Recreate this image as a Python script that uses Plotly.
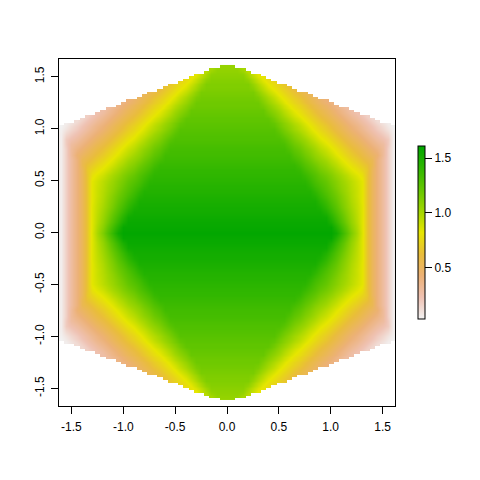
import numpy as np
import plotly.graph_objects as go

# Columns of the upper-right quadrant (x >= 0); the picture is mirror-symmetric in x and y.
x_quadrant = [round(i * 0.05, 2) for i in range(33)]
y_quadrant = [round(i * 0.05, 3) for i in range(21)] + [round(1 + i * 0.025, 3) for i in range(1, 25)]

# Values in hundredths, read row by row (y rising); rows stop at the shape's edge.
z_quadrant = [
    [160]*21 + [154,140,127,113,99,85,66,52,41,29,17,5],
    [158]*21 + [146,134,122,109,97,84,66,52,41,29,17,5],
    [157]*20 + [150,139,128,117,106,95,84,66,52,41,29,17,5],
    [155]*19 + [154,144,134,124,114,104,94,84,66,52,41,29,17,5],
    [153]*19 + [147,138,129,120,111,102,93,84,66,52,41,29,17,5],
    [152]*18 + [149,141,133,125,116,108,100,92,84,66,52,41,29,17,5],
    [150]*18 + [143,136,128,121,113,106,98,91,83,66,52,41,29,17,5],
    [148]*17 + [145,138,131,124,118,111,104,97,90,83,66,52,41,29,17,5],
    [146]*16 + [146,140,134,127,121,115,108,102,96,90,83,66,52,41,29,17,5],
    [145]*16 + [141,135,130,124,118,112,106,101,95,89,83,66,52,41,29,17,5],
    [143]*15 + [142,137,131,126,121,115,110,104,99,94,88,83,66,52,41,29,17,5],
    [141]*15 + [137,132,127,121,116,111,105,100,95,89,84,79,66,52,41,29,17,5],
    [140]*14 + [138,132,127,122,116,111,106,100,95,89,84,79,74,67,52,41,29,17,5],
    [138]*14 + [133,127,122,117,111,106,100,95,89,84,79,74,69,64,55,41,29,17,5],
    [136]*13 + [133,128,122,117,111,106,101,95,90,84,79,74,69,64,59,54,41,29,17,5],
    [134]*12 + [134,128,123,117,112,106,101,95,90,84,79,74,69,64,59,54,49,44,31,17,5],
    [133]*12 + [129,123,118,112,107,101,95,90,84,79,74,69,64,59,54,49,44,39,31,17,5],
    [131]*11 + [130,124,118,113,107,101,96,90,84,79,74,69,64,59,54,49,44,39,34,29,19,5],
    [129]*11 + [125,119,113,107,102,96,90,84,79,74,69,64,59,54,49,44,39,34,29,24,19,5],
    [128]*10 + [125,119,114,108,102,96,90,85,79,74,69,64,59,54,49,44,39,34,29,24,19,14,5],
    [126]*10 + [120,114,108,102,96,91,85,79,74,69,64,59,54,49,44,39,34,29,24,19,14,9,4],
    [125]*9 + [123,117,111,106,100,94,88,82,77,72,67,62,57,52,47,42,37,32,27,22,17,12,7,3],
    [124]*9 + [121,115,109,103,97,91,85,79,74,69,64,59,54,49,44,39,34,29,24,19,14,9,5],
    [123]*9 + [118,112,106,100,94,88,82,77,72,67,62,57,52,47,42,37,32,27,22,17,12],
    [123]*8 + [122,116,109,103,97,91,85,79,74,69,64,59,54,49,44,39,34,29,24,19,14],
    [122]*8 + [119,113,107,100,94,88,82,77,72,67,62,57,52,47,42,37,32,27,22,17],
    [121]*8 + [116,110,104,97,91,85,79,74,69,64,59,54,49,44,39,34,29,24],
    [120]*7 + [120,113,107,101,94,88,82,77,72,67,62,57,52,47,42,37,32,27],
    [119]*7 + [117,111,104,98,91,85,79,74,69,64,59,54,49,44,39,34,29],
    [118]*7 + [114,108,101,95,88,82,77,72,67,62,57,52,47,42,37],
    [118]*7 + [112,105,98,92,85,79,74,69,64,59,54,49,44,39],
    [117]*6 + [115,109,102,95,88,82,77,72,67,62,57,52,47,42],
    [116]*6 + [113,106,99,92,85,79,74,69,64,59,54,49],
    [115]*6 + [110,103,96,89,82,77,72,67,62,57,52],
    [114]*5 + [114,107,99,92,85,79,74,69,64,59,54],
    [113]*5 + [111,103,96,89,82,77,72,67,62],
    [112]*5 + [108,100,93,85,79,74,69,64],
    [112]*5 + [105,97,89,82,77,72,67],
    [111]*4 + [109,101,93,86,79,74],
    [110]*4 + [106,98,90,82,77],
    [109]*4 + [102,94,86,80],
    [108]*3 + [107,99,91,82],
    [107]*3 + [104,95],
    [106]*3 + [100],
    [105, 105],
]

tick_values = [-1.5, -1.0, -0.5, 0.0, 0.5, 1.0, 1.5]
tick_labels = ["-1.5", "-1.0", "-0.5", "0.0", "0.5", "1.0", "1.5"]
bar_values = [0.5, 1.0, 1.5]
bar_labels = ["0.5", "1.0", "1.5"]

quadrant = np.full((len(y_quadrant), len(x_quadrant)), np.nan)
for r, row in enumerate(z_quadrant):
    quadrant[r, :len(row)] = np.array(row) / 100.0
right = np.vstack([quadrant[:0:-1], quadrant])
full = np.hstack([right[:, :0:-1], right])
xs = [-v for v in x_quadrant[:0:-1]] + x_quadrant
ys = [-v for v in y_quadrant[:0:-1]] + y_quadrant

terrain = [
    [0.0, "#F2F2F2"], [0.125, "#EFC2B3"], [0.25, "#ECB176"], [0.375, "#E9BD3A"],
    [0.5, "#E6E600"], [0.625, "#A0D600"], [0.75, "#63C600"], [0.875, "#2EB600"], [1.0, "#00A600"],
]
font = dict(family="Liberation Sans, Arial, sans-serif", size=12, color="black")

fig = go.Figure(go.Heatmap(
    x=xs, y=ys, z=full.tolist(), zmin=0.03, zmax=1.61, zsmooth="best",
    colorscale=terrain, hoverongaps=False,
    colorbar=dict(
        lenmode="pixels", len=173, thicknessmode="pixels", thickness=7,
        x=1.068, xanchor="left", xpad=0, y=0.5, yanchor="middle", ypad=0,
        outlinecolor="black", outlinewidth=1, borderwidth=0,
        tickmode="array", tickvals=bar_values, ticktext=bar_labels,
        ticks="outside", ticklen=7, tickwidth=1, tickcolor="black", tickfont=font,
    ),
))
axis = dict(
    tickmode="array", tickvals=tick_values, ticktext=tick_labels,
    ticks="outside", ticklen=7, tickwidth=1, tickcolor="black", tickfont=font,
    showline=True, linecolor="black", linewidth=1, mirror=True,
    showgrid=False, zeroline=False,
)
fig.update_layout(
    width=480, height=480, autosize=False,
    margin=dict(l=51, r=92.5, t=51, b=82, pad=0),
    paper_bgcolor="white", plot_bgcolor="white", font=font,
    xaxis=dict(axis, range=[-1.62, 1.62], ticklabelstandoff=3),
    yaxis=dict(axis, range=[-1.67, 1.67], tickangle=-90, ticklabelstandoff=2),
)
fig.write_html("out.html", config={"displayModeBar": False})
